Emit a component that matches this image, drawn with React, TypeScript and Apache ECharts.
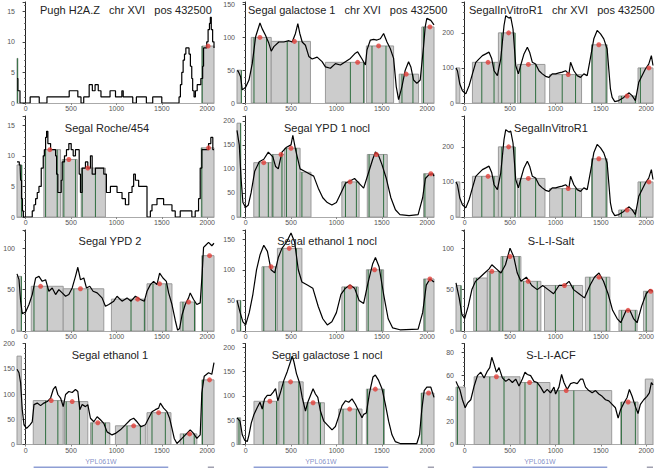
import React, { useEffect, useRef } from "react";
import * as echarts from "echarts";

// ---------- data ----------
const xTicks = [0, 500, 1000, 1500, 2000];
const XMIN = -95;
const XMAX = 2075;

const geneName = "YPL061W";
const geneStart = 88;
const geneEnd = 1571;
const nextGeneStart = 2007;

// nucleosome calls: [start, end, height, dotX | null, greenLines[]]
type Nuc = [number, number, number, number | null, number[]];

const pughSignal = [[-95,4],[-85,2],[-62,0],[50,1],[150,0],[235,1],[480,2],[575,1],[610,0],[640,1],[700,3],[735,2],[765,3],[800,2],[830,1],[930,2],[990,1],[1060,2],[1075,1],[1180,0],[1220,1],[1330,0],[1400,1],[1500,0],[1690,1],[1705,3],[1720,5],[1735,7],[1750,8],[1765,9],[1800,8],[1815,6],[1830,4],[1840,2],[1855,1],[1870,2],[1890,3],[1930,4],[1950,6],[1960,9],[1995,10],[2010,12],[2025,13],[2035,14],[2045,12],[2060,10],[2075,9]];
const pughNucs: Nuc[] = [[-150,-88,7.3,null,[-88]],[1942,2080,9.3,2010,[1945]]];

const gal1Signal = [[-95,49],[-84,49],[-55,40],[-37,20],[0,24],[37,35],[73,60],[110,101],[158,122],[183,113],[220,103],[256,91],[282,79],[311,86],[366,93],[421,93],[476,95],[513,93],[549,106],[575,121],[597,106],[623,93],[659,88],[696,71],[733,67],[788,70],[842,63],[879,55],[934,53],[989,60],[1044,58],[1099,63],[1154,68],[1209,76],[1234,78],[1282,67],[1319,58],[1337,81],[1374,96],[1410,97],[1447,96],[1484,98],[1520,106],[1557,93],[1593,83],[1630,68],[1659,25],[1685,5],[1722,25],[1758,50],[1795,63],[1820,55],[1850,35],[1886,30],[1923,35],[1960,86],[1978,116],[1996,129],[2040,126],[2075,119]];
const gal1Nucs: Nuc[] = [[-150,-47,50,null,[-47]],[62,282,100,158,[92,230]],[282,714,94,538,[458,586]],[879,1308,62,1234,[1154,1300]],[1330,1630,87,1465,[1392,1546]],[1692,1905,44,1769,[1722,1843]],[1941,2080,116,2030,[1960]]];

const vitroSignal = [[-95,100],[-79,92],[-53,54],[-24,35],[13,26],[50,50],[86,83],[123,116],[160,126],[196,135],[233,140],[269,145],[299,126],[324,92],[361,78],[398,126],[434,221],[453,249],[489,242],[508,245],[533,211],[563,107],[592,83],[617,107],[654,140],[691,159],[716,145],[746,116],[782,111],[819,92],[856,83],[892,76],[929,73],[965,83],[1002,83],[1039,86],[1075,88],[1112,92],[1149,83],[1167,116],[1203,92],[1240,78],[1277,73],[1313,83],[1350,78],[1387,130],[1423,183],[1460,207],[1497,197],[1533,183],[1570,154],[1588,97],[1606,40],[1625,16],[1654,4],[1698,7],[1753,16],[1808,29],[1845,21],[1881,7],[1918,59],[1954,78],[1991,97],[2028,111],[2057,135],[2075,107]];
const vitroNucs: Nuc[] = [[-150,-53,100,null,[]],[86,372,116,258,[189,324]],[372,555,200,485,[409,555]],[581,885,110,702,[617,782]],[936,1288,81,1141,[1075,1222]],[1398,1570,166,1478,[1405,1559]],[1698,1888,20,1790,[1727,1881]],[1910,2080,100,2030,[1936]]];

const rocheSignal = [[-95,9],[-70,8.5],[-60,8],[-55,6],[-45,3],[-35,1],[-25,0],[73,1],[92,2],[110,3],[128,4],[147,5],[172,8],[194,10],[209,11],[220,13],[231,14],[245,12],[275,11],[330,10],[341,7],[355,4],[377,4],[392,6],[403,9],[428,10],[450,11],[476,12],[502,11],[524,10],[549,11],[575,11],[590,7],[604,4],[623,8],[659,9],[685,8],[714,10],[733,7],[769,8],[824,8],[861,7],[890,4],[916,4],[934,5],[989,5],[1007,4],[1062,3],[1099,2],[1136,4],[1172,5],[1190,7],[1209,6],[1245,5],[1319,5],[1337,0],[1374,1],[1392,2],[1447,3],[1520,2],[1557,2],[1612,1],[1648,0],[1703,1],[1831,0],[1868,1],[1905,3],[1923,8],[1941,11],[1989,11],[2015,12],[2040,13],[2062,11],[2075,11]];
const rocheNucs: Nuc[] = [[-150,-40,8.5,null,[-45]],[201,385,11,267,[220,348]],[403,568,9.4,476,[421,549]],[612,879,8,685,[623,769]],[1934,2080,11.3,2015,[1941]]];

const ypd1Signal = [[-95,180],[-70,150],[-50,80],[-30,30],[0,20],[30,25],[60,50],[100,95],[150,115],[200,120],[250,135],[300,125],[330,105],[360,100],[400,135],[450,145],[500,150],[520,170],[550,140],[600,100],[650,95],[700,90],[750,85],[800,60],[850,40],[900,30],[950,25],[1000,30],[1050,50],[1100,70],[1150,75],[1200,80],[1250,70],[1300,60],[1350,90],[1400,120],[1430,135],[1460,130],[1500,110],[1550,80],[1600,40],[1650,15],[1700,5],[1800,3],[1900,5],[1950,40],[1980,80],[2020,88],[2060,90],[2075,85]];
const ypd1Nucs: Nuc[] = [[-150,-55,195,null,[-55]],[90,290,113,200,[150,250]],[290,430,130,390,[300,400]],[430,600,143,500,[450,560]],[600,720,93,null,[620]],[1060,1250,73,1150,[1100,1220]],[1340,1560,130,1440,[1360,1520]],[1960,2080,90,2040,[1975]]];

const ypd2Signal = [[-95,69],[-73,62],[-55,36],[-37,21],[0,23],[37,32],[73,44],[110,64],[147,66],[183,60],[220,62],[256,48],[293,52],[330,44],[366,50],[403,46],[440,42],[476,44],[513,52],[549,66],[575,77],[604,62],[641,64],[670,52],[707,54],[743,48],[788,46],[842,40],[879,30],[916,32],[971,36],[1007,42],[1062,36],[1117,40],[1161,36],[1209,42],[1264,38],[1308,36],[1337,48],[1374,56],[1410,60],[1447,56],[1476,70],[1513,64],[1550,60],[1575,46],[1612,32],[1648,13],[1674,1],[1696,3],[1722,19],[1758,32],[1795,40],[1813,46],[1850,38],[1886,32],[1923,34],[1945,70],[1960,101],[1978,103],[2015,107],[2051,103],[2075,106]];
const ypd2Nucs: Nuc[] = [[-150,-47,66,null,[-47]],[62,414,54,165,[92,238]],[414,861,51,604,[531,685]],[945,1319,38.5,1234,[1161,1308]],[1337,1612,57,1476,[1403,1546]],[1703,1868,35,1795,[1733,1860]],[1941,2080,91,2026,[1948]]];

const eth1noclSignal = [[-95,50],[-60,30],[-30,15],[0,10],[40,30],[80,60],[120,100],[160,125],[200,140],[240,130],[280,100],[320,95],[360,120],[400,135],[450,145],[500,160],[540,145],[580,100],[620,80],[680,75],[740,70],[800,40],[850,20],[900,10],[950,15],[1000,30],[1050,60],[1100,70],[1150,75],[1200,70],[1250,50],[1300,45],[1350,80],[1400,110],[1430,120],[1470,105],[1520,60],[1570,20],[1620,5],[1700,2],[1900,3],[1950,30],[1990,75],[2030,85],[2075,80]];
const eth1noclNucs: Nuc[] = [[-150,-55,50,null,[-55]],[180,350,105,280,[200,330]],[350,620,135,480,[410,560]],[1060,1240,72,1150,[1090,1220]],[1330,1520,100,1420,[1350,1500]],[1960,2080,85,2030,[1975]]];

const saltSignal = [[-95,58],[-60,40],[-30,20],[0,15],[40,30],[80,50],[120,60],[170,65],[220,70],[270,75],[300,80],[350,75],[400,70],[450,80],[500,100],[540,90],[580,70],[620,60],[680,65],[740,55],[800,50],[860,55],[920,50],[980,45],[1040,55],[1100,55],[1150,60],[1200,50],[1260,45],[1320,40],[1380,55],[1430,65],[1480,70],[1530,60],[1580,45],[1630,25],[1680,15],[1720,10],[1780,25],[1820,25],[1860,15],[1900,10],[1950,30],[2000,45],[2040,50],[2075,48]];
const saltNucs: Nuc[] = [[-150,-40,55,null,[-40]],[100,250,64,null,[130]],[250,400,72,300,[280,380]],[400,620,90,500,[420,600]],[620,840,60,700,[650,800]],[880,1300,55,1100,[1000,1200]],[1330,1600,65,1480,[1380,1560]],[1700,1900,25,1800,[1730,1880]],[1970,2080,48,2050,[2000]]];

const eth1Signal = [[-95,149],[-73,142],[-55,122],[-37,69],[-18,39],[11,32],[48,39],[73,45],[92,79],[128,82],[165,77],[201,82],[238,85],[275,92],[304,109],[330,115],[355,99],[385,92],[414,75],[440,99],[476,105],[513,103],[549,109],[575,105],[597,69],[623,79],[659,75],[685,79],[714,52],[751,45],[788,55],[824,49],[861,42],[897,25],[952,19],[989,22],[1044,29],[1099,39],[1154,49],[1190,52],[1227,45],[1271,35],[1319,39],[1355,52],[1392,65],[1429,69],[1465,72],[1484,82],[1520,72],[1557,65],[1586,52],[1612,32],[1637,12],[1667,2],[1722,12],[1776,22],[1813,29],[1850,22],[1886,12],[1923,19],[1941,102],[1967,135],[2015,142],[2051,139],[2075,162]];
const eth1Nucs: Nuc[] = [[-150,-47,175,null,[]],[84,414,87,282,[220,355]],[429,685,85,513,[447,593]],[714,927,43,795,[733,879]],[989,1319,37,1190,[1117,1264]],[1337,1601,63,1465,[1392,1539]],[1703,1886,21,1806,[1740,1857]],[1941,2080,128,2026,[1948]]];

const gal1noclSignal = [[-95,55],[-62,48],[-37,20],[-11,9],[18,6],[37,20],[62,44],[92,62],[128,76],[158,87],[183,73],[209,94],[238,101],[275,101],[304,108],[330,115],[355,90],[385,108],[421,132],[458,150],[495,171],[513,182],[531,171],[560,146],[597,125],[623,97],[659,69],[685,87],[714,101],[743,115],[769,104],[795,97],[824,69],[861,48],[897,41],[952,30],[989,37],[1026,58],[1062,80],[1099,90],[1136,87],[1172,94],[1209,83],[1245,69],[1282,55],[1300,62],[1330,65],[1366,108],[1403,139],[1429,143],[1465,132],[1502,115],[1539,83],[1575,48],[1612,20],[1648,6],[1703,2],[1886,2],[1916,20],[1941,73],[1967,111],[1996,118],[2040,118],[2075,97]];
const gal1noclNucs: Nuc[] = [[-150,-55,55,null,[-73]],[92,355,89,267,[194,341]],[366,634,129,495,[421,586]],[641,868,86,743,[685,824]],[1026,1282,73,1146,[1073,1220]],[1330,1528,114,1429,[1344,1520]],[1934,2080,106,2015,[1941]]];

const acfSignal = [[-95,55],[-79,52],[-53,48],[-24,39],[6,32],[31,36],[68,39],[105,51],[141,60],[178,63],[214,58],[251,64],[277,67],[299,76],[324,70],[350,63],[379,67],[416,58],[453,55],[489,57],[526,54],[563,57],[599,51],[636,57],[665,63],[691,61],[727,60],[764,55],[800,54],[837,50],[874,45],[910,48],[947,45],[984,50],[1002,44],[1039,50],[1068,61],[1094,54],[1130,48],[1167,53],[1203,54],[1240,53],[1277,57],[1302,57],[1332,50],[1368,47],[1405,45],[1442,47],[1478,44],[1515,42],[1552,39],[1588,38],[1625,35],[1661,32],[1691,23],[1716,30],[1753,36],[1790,41],[1815,48],[1845,42],[1881,33],[1910,27],[1936,35],[1973,39],[2009,42],[2035,45],[2057,54],[2075,52]];
const acfNucs: Nuc[] = [[-150,6,50,null,[-79]],[105,610,59,350,[277,434]],[610,940,54,716,[665,800]],[940,1620,47,1119,[1039,1203]],[1720,1910,37,1801,[1727,1881]],[1990,2080,57,null,[]]];

const panels = [
  { title: "Pugh H2A.Z   chr XVI   pos 432500", signal: pughSignal, nucs: pughNucs, yMax: 16.5, yInterval: 5, step: true },
  { title: "Segal galactose 1   chr XVI   pos 432500", signal: gal1Signal, nucs: gal1Nucs, yMax: 154, yInterval: 50, step: false },
  { title: "SegalInVitroR1   chr XVI   pos 432500", signal: vitroSignal, nucs: vitroNucs, yMax: 288, yInterval: 100, step: false },
  { title: "Segal Roche/454", signal: rocheSignal, nucs: rocheNucs, yMax: 16.5, yInterval: 5, step: true },
  { title: "Segal YPD 1 nocl", signal: ypd1Signal, nucs: ypd1Nucs, yMax: 210, yInterval: 50, step: false },
  { title: "SegalInVitroR1", signal: vitroSignal, nucs: vitroNucs, yMax: 288, yInterval: 100, step: false },
  { title: "Segal YPD 2", signal: ypd2Signal, nucs: ypd2Nucs, yMax: 122, yInterval: 50, step: false },
  { title: "Segal ethanol 1 nocl", signal: eth1noclSignal, nucs: eth1noclNucs, yMax: 165, yInterval: 50, step: false },
  { title: "S-L-I-Salt", signal: saltSignal, nucs: saltNucs, yMax: 122, yInterval: 50, step: false },
  { title: "Segal ethanol 1", signal: eth1Signal, nucs: eth1Nucs, yMax: 200, yInterval: 50, step: false },
  { title: "Segal galactose 1 nocl", signal: gal1noclSignal, nucs: gal1noclNucs, yMax: 208, yInterval: 50, step: false },
  { title: "S-L-I-ACF", signal: acfSignal, nucs: acfNucs, yMax: 88, yInterval: 20, step: false },
];

// ---------- layout ----------
const colLeft = [17, 237, 456];
const colWidth = 197;
const rowTop = [2, 116, 230, 343.5];
const rowHeight = 101;
const titlePos: [number, number, string][] = [
  [40, 10, "left"], [248, 10, "left"], [469, 10, "left"],
  [107, 128, "center"], [327, 128, "center"], [551, 128, "center"],
  [110, 241, "center"], [327, 241, "center"], [551, 241, "center"],
  [110, 355, "center"], [327, 355, "center"], [551, 355, "center"],
];
const FONT = "Liberation Sans, Arial, sans-serif";

function buildOption() {
  const grid: any[] = [];
  const xAxis: any[] = [];
  const yAxis: any[] = [];
  const series: any[] = [];
  const graphic: any[] = [];

  panels.forEach((p, i) => {
    const col = i % 3;
    const row = Math.floor(i / 3);
    grid.push({ left: colLeft[col], top: rowTop[row], width: colWidth, height: rowHeight, containLabel: false });
    xAxis.push({
      type: "value", gridIndex: i, min: XMIN, max: XMAX,
      axisLine: { show: true, onZero: false, lineStyle: { color: "#aaa", width: 1 } },
      axisTick: { show: true, length: 2, customValues: xTicks, lineStyle: { color: "#888" } },
      axisLabel: { customValues: xTicks, fontSize: 7, color: "#555", margin: 2, fontFamily: FONT, formatter: (v: number) => String(v) },
      splitLine: { show: false },
    });
    const iv = p.yInterval;
    yAxis.push({
      type: "value", gridIndex: i, min: 0, max: p.yMax, interval: iv,
      axisLine: { show: true, lineStyle: { color: "#222", width: 1 } },
      axisTick: { show: true, length: 3, lineStyle: { color: "#444" } },
      minorTick: { show: true, splitNumber: 5, length: 1.5, lineStyle: { color: "#666" } },
      axisLabel: {
        fontSize: 7, color: "#555", margin: 2, fontFamily: FONT,
        formatter: (v: number) => (Math.abs(v / iv - Math.round(v / iv)) < 1e-6 ? String(v) : ""),
      },
      splitLine: { show: false },
    });
    const nucs = p.nucs;
    series.push({
      type: "custom", xAxisIndex: i, yAxisIndex: i, z: 1,
      data: nucs.map((n) => [n[0], n[1], n[2]]),
      encode: { x: [0, 1], y: 2 },
      renderItem: (params: any, api: any) => {
        const n = nucs[params.dataIndex];
        const cs = params.coordSys;
        const a = api.coord([n[0], n[2]]);
        const b = api.coord([n[1], 0]);
        const left = Math.max(a[0], cs.x);
        const right = Math.min(b[0], cs.x + cs.width);
        const children: any[] = [];
        if (right > left) {
          children.push({
            type: "rect",
            shape: { x: left, y: a[1], width: right - left, height: b[1] - a[1] },
            style: { fill: "#cccccc", stroke: "#9a9a9a", lineWidth: 1 },
          });
        }
        n[4].forEach((g) => {
          const t = api.coord([g, n[2]]);
          const z = api.coord([g, 0]);
          if (t[0] >= cs.x - 0.5 && t[0] <= cs.x + cs.width + 0.5) {
            children.push({
              type: "line",
              shape: { x1: t[0], y1: t[1], x2: z[0], y2: z[1] },
              style: { stroke: "#2f6e3f", lineWidth: 1 },
            });
          }
        });
        return { type: "group", children };
      },
    });
    series.push({
      type: "line", xAxisIndex: i, yAxisIndex: i, z: 3,
      data: p.signal, step: p.step ? "end" : false,
      showSymbol: false, symbol: "none", clip: true,
      lineStyle: { color: "#000", width: 1.2 },
    });
    series.push({
      type: "scatter", xAxisIndex: i, yAxisIndex: i, z: 4,
      data: nucs.filter((n) => n[3] !== null).map((n) => [n[3], n[2]]),
      symbolSize: 5, itemStyle: { color: "#e2403a" },
    });
    const tp = titlePos[i];
    graphic.push({
      type: "text", x: tp[0], y: tp[1], z: 10,
      style: {
        text: p.title, fill: "#222", font: `11px ${FONT}`,
        align: tp[2], textAlign: tp[2], verticalAlign: "middle", textVerticalAlign: "middle",
      },
    });
  });

  // gene annotation tracks
  for (let c = 0; c < 3; c++) {
    const gi = grid.length;
    grid.push({ left: colLeft[c], top: 455, width: colWidth, height: 15 });
    xAxis.push({ type: "value", gridIndex: gi, min: XMIN, max: XMAX, show: false });
    yAxis.push({ type: "value", gridIndex: gi, min: 0, max: 1, show: false });
    series.push({
      type: "line", xAxisIndex: gi, yAxisIndex: gi, showSymbol: false, symbol: "none",
      data: [[geneStart, 0.18], [geneEnd, 0.18]], lineStyle: { color: "#8e9ed4", width: 1.5 },
    });
    series.push({
      type: "line", xAxisIndex: gi, yAxisIndex: gi, showSymbol: false, symbol: "none",
      data: [[nextGeneStart, 0.18], [XMAX, 0.18]], lineStyle: { color: "#a0a0b0", width: 1.5 },
    });
    series.push({
      type: "scatter", xAxisIndex: gi, yAxisIndex: gi, symbolSize: 0,
      data: [[(geneStart + geneEnd) / 2, 0.55]],
      label: { show: true, position: "inside", formatter: geneName, fontSize: 7, color: "#6474b8", fontFamily: FONT },
    });
  }

  return {
    animation: false,
    backgroundColor: "#ffffff",
    textStyle: { fontFamily: FONT },
    grid, xAxis, yAxis, series, graphic,
  };
}

export default function App() {
  const ref = useRef<HTMLDivElement>(null);
  useEffect(() => {
    document.body.style.margin = "0";
    const chart = echarts.init(ref.current!, undefined, { renderer: "svg" });
    chart.setOption(buildOption() as any);
    return () => chart.dispose();
  }, []);
  return <div ref={ref} style={{ position: "absolute", left: 0, top: 0, width: 660, height: 472 }} />;
}
